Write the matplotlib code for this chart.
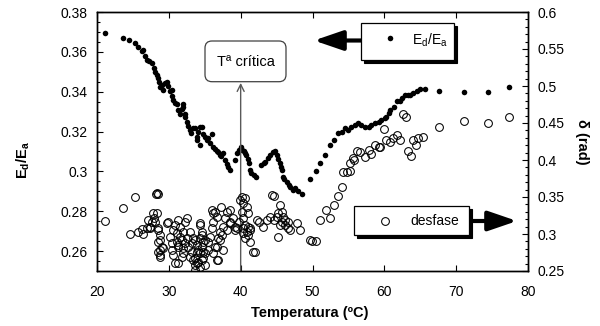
import matplotlib
matplotlib.use("Agg")
import matplotlib.pyplot as plt
from matplotlib.patches import Rectangle, FancyBboxPatch
from matplotlib.lines import Line2D
from matplotlib.ticker import MultipleLocator, FuncFormatter

plt.rcParams['font.family'] = ['Liberation Sans', 'DejaVu Sans']
plt.rcParams['mathtext.fontset'] = 'custom'
plt.rcParams['mathtext.rm'] = 'Liberation Sans'
plt.rcParams['mathtext.bf'] = 'Liberation Sans:bold'

# E_d/E_a vs temperature (left axis)
ed_ea_pts = [
    (21.1, 0.3696), (23.6, 0.3668), (24.5, 0.3658), (25.3, 0.3643), (25.75, 0.3623),
    (26.2, 0.3605), (26.4, 0.361), (26.7, 0.358), (26.9, 0.356), (27.2, 0.3555),
    (27.6, 0.3543), (27.9, 0.352), (28.1, 0.350), (28.3, 0.3485), (28.5, 0.347),
    (28.6, 0.345), (28.8, 0.3425), (29.0, 0.3435), (29.2, 0.341), (29.5, 0.3445),
    (29.7, 0.345), (29.9, 0.343), (30.1, 0.3405), (30.4, 0.341), (30.5, 0.338),
    (30.6, 0.336), (30.8, 0.3345), (31.1, 0.334), (31.3, 0.331), (31.6, 0.329),
    (31.8, 0.3315), (32.0, 0.3325), (32.0, 0.334), (32.2, 0.329), (32.3, 0.3275),
    (32.5, 0.325), (32.7, 0.323), (32.9, 0.321), (33.1, 0.3195), (33.3, 0.322),
    (33.6, 0.3216), (33.9, 0.3174), (33.9, 0.3158), (34.1, 0.320), (34.3, 0.3224),
    (34.3, 0.3133), (34.6, 0.3224), (34.8, 0.319), (35.0, 0.3175), (35.3, 0.3158),
    (35.5, 0.317), (35.7, 0.314), (36.0, 0.319), (36.2, 0.3124), (36.4, 0.311),
    (36.7, 0.310), (36.9, 0.3095), (37.1, 0.3082), (37.3, 0.3075), (37.6, 0.309),
    (37.8, 0.3057), (38.1, 0.3035), (38.3, 0.3024), (38.5, 0.3007), (39.2, 0.3057),
    (39.5, 0.309), (39.7, 0.3108), (40.1, 0.3124), (40.2, 0.3105), (40.4, 0.310),
    (40.6, 0.309), (40.8, 0.3082), (41.0, 0.306), (41.1, 0.304), (41.3, 0.3007),
    (41.5, 0.299), (41.8, 0.2982), (42.2, 0.2973), (42.9, 0.3032), (43.2, 0.304),
    (43.4, 0.3049), (43.8, 0.3065), (44.1, 0.3082), (44.5, 0.3095), (44.8, 0.310),
    (45.0, 0.3082), (45.2, 0.306), (45.5, 0.304), (45.6, 0.302), (45.7, 0.3007),
    (45.9, 0.2973), (46.1, 0.296), (46.4, 0.2948), (46.7, 0.293), (46.9, 0.2923),
    (47.3, 0.2907), (47.6, 0.2915), (48.0, 0.290), (48.5, 0.2887), (49.7, 0.296),
    (50.5, 0.3004), (51.1, 0.3044), (51.8, 0.3082), (52.4, 0.3133), (53.0, 0.3158),
    (53.6, 0.3191), (54.1, 0.320), (54.5, 0.3216), (55.0, 0.3208), (55.4, 0.3224),
    (55.9, 0.3233), (56.4, 0.3241), (56.8, 0.3233), (57.3, 0.3224), (57.8, 0.3224),
    (58.2, 0.3233), (58.7, 0.3241), (59.2, 0.325), (59.6, 0.3258), (60.1, 0.3266),
    (60.3, 0.3275), (60.6, 0.3291), (60.8, 0.3308), (61.3, 0.3325), (61.7, 0.3355),
    (62.2, 0.3355), (62.5, 0.337), (62.9, 0.3384), (63.3, 0.3385), (63.6, 0.3384),
    (64.0, 0.3392), (64.5, 0.3405), (64.9, 0.3412), (65.6, 0.3412), (67.6, 0.3405),
    (71.1, 0.3397), (74.5, 0.3397), (77.3, 0.3422),
]

# desfase (phase lag, rad) vs temperature (right axis)
desfase_pts = [
    # 20-30 C
    (21.1, 0.318), (23.6, 0.3355), (25.3, 0.3496), (24.6, 0.2996), (25.75, 0.3031),
    (26.45, 0.2996), (26.2, 0.3063), (26.9, 0.3077), (27.1, 0.3189), (27.6, 0.3166),
    (27.8, 0.328), (28.3, 0.328), (27.4, 0.3077), (28.5, 0.3054), (28.45, 0.354),
    (28.2, 0.354), (28.3, 0.355), (28.8, 0.2986), (28.5, 0.2896), (28.8, 0.2784),
    (28.8, 0.2685), (29.2, 0.2807), (28.1, 0.3166), (27.9, 0.3212), (27.4, 0.3099),
    (28.5, 0.3077), (28.8, 0.2919), (29.0, 0.2828), (28.5, 0.2761), (28.8, 0.2716),
    (29.8, 0.3153),
    # 30-33 C
    (29.9, 0.3166), (30.2, 0.2963), (30.4, 0.2784), (30.6, 0.2716), (30.9, 0.2604),
    (31.3, 0.2604), (30.6, 0.3054), (31.1, 0.3009), (31.6, 0.3099), (31.3, 0.3189),
    (32.0, 0.3031), (31.8, 0.2919), (32.25, 0.3166), (32.5, 0.3212), (31.1, 0.2896),
    (31.3, 0.2828), (32.0, 0.2807), (32.5, 0.2942), (32.95, 0.3031), (33.2, 0.2874),
    (32.7, 0.2828), (33.2, 0.2761), (32.95, 0.2693), (30.9, 0.3122), (31.3, 0.2851),
    (32.0, 0.2739), (31.8, 0.2693), (32.25, 0.2874), (30.4, 0.2874), (31.6, 0.2963),
    # 33-35.5 C
    (33.4, 0.2649), (33.6, 0.2581), (33.6, 0.2514), (34.1, 0.2626), (34.3, 0.2739),
    (34.6, 0.2828), (34.3, 0.2942), (34.6, 0.3031), (34.3, 0.3121), (34.6, 0.2986),
    (34.8, 0.2896), (34.8, 0.2761), (34.8, 0.2672), (35.0, 0.2581), (33.9, 0.2761),
    (33.9, 0.2851), (33.4, 0.2942), (34.3, 0.3144), (33.6, 0.2672), (34.1, 0.2784),
    (35.0, 0.2739), (34.3, 0.2558), (33.9, 0.2604), (34.6, 0.2649), (35.0, 0.2919),
    (33.6, 0.2919),
    # 35.5-40 C
    (35.5, 0.2784), (35.5, 0.2896), (35.7, 0.2963), (35.97, 0.3077), (36.2, 0.3166),
    (35.97, 0.3324), (36.4, 0.3301), (36.2, 0.328), (36.7, 0.3234), (36.9, 0.2942),
    (37.1, 0.3031), (37.4, 0.2986), (37.6, 0.3099), (36.7, 0.2828), (36.9, 0.2649),
    (36.2, 0.2739), (37.8, 0.3212), (38.06, 0.3301), (38.5, 0.3324), (38.5, 0.3166),
    (38.06, 0.3054), (38.98, 0.3212), (39.2, 0.3099), (39.7, 0.3166), (39.45, 0.3077),
    (37.1, 0.2919), (37.3, 0.3368), (36.4, 0.2828), (37.6, 0.2784), (36.7, 0.2649),
    (39.2, 0.3054), (38.5, 0.3144),
    # 40-42 C
    (39.9, 0.346), (40.14, 0.350), (40.6, 0.3482), (40.37, 0.3415), (40.84, 0.3369),
    (40.14, 0.3301), (41.06, 0.328), (40.37, 0.3212), (40.6, 0.3121), (40.84, 0.3031),
    (41.3, 0.3054), (40.37, 0.3009), (41.06, 0.2986), (41.3, 0.2896), (41.76, 0.2761),
    (42.0, 0.2761), (42.23, 0.3189), (40.37, 0.3077), (41.06, 0.3099), (40.6, 0.2942),
    (41.3, 0.3077),
    # 42-48 C
    (42.5, 0.3166), (43.15, 0.3099), (43.6, 0.3189), (44.1, 0.3234), (44.3, 0.3527),
    (44.6, 0.3513), (45.0, 0.3234), (45.5, 0.3392), (45.7, 0.3301), (45.2, 0.328),
    (45.9, 0.3234), (45.7, 0.3166), (46.2, 0.3121), (46.6, 0.3077), (46.9, 0.3054),
    (45.2, 0.2963), (47.8, 0.3144), (48.3, 0.3054), (46.2, 0.3189), (45.5, 0.3121),
    (46.6, 0.3166), (44.6, 0.3189),
    # 48-80 C
    (49.65, 0.2919), (49.9, 0.291), (50.5, 0.291), (51.1, 0.3189), (51.9, 0.3324),
    (52.4, 0.3212), (53.0, 0.3392), (53.6, 0.3513), (54.1, 0.363), (54.3, 0.3842),
    (54.8, 0.3842), (55.2, 0.3857), (55.2, 0.3956), (55.7, 0.4023), (55.8, 0.400),
    (56.2, 0.4126), (56.6, 0.4112), (57.3, 0.4045), (57.8, 0.4135), (58.2, 0.408),
    (58.7, 0.4203), (59.3, 0.418), (59.4, 0.4172), (59.96, 0.4415), (60.3, 0.427),
    (60.8, 0.4247), (61.25, 0.4293), (61.7, 0.4338), (62.2, 0.427), (62.56, 0.4622),
    (63.0, 0.4577), (63.34, 0.4126), (63.67, 0.4058), (63.95, 0.427), (64.4, 0.4203),
    (64.7, 0.4293), (65.4, 0.4315), (67.6, 0.4442), (71.1, 0.453), (74.5, 0.4496),
    (77.3, 0.4577),
]

x_ticks = [20, 30, 40, 50, 60, 70, 80]
left_ticks = [0.26, 0.28, 0.30, 0.32, 0.34, 0.36, 0.38]
right_ticks = [0.25, 0.30, 0.35, 0.40, 0.45, 0.50, 0.55, 0.60]
T_CRIT = 40
T_CRIT_TIP = 0.3444

temp_ed, ed_ea = zip(*ed_ea_pts)
temp_des, desfase = zip(*desfase_pts)

fig = plt.figure(figsize=(6, 3.26), dpi=100)
ax = fig.add_axes([97 / 600, 1 - 271 / 326, 431 / 600, 259 / 326])
ax2 = ax.twinx()

ax.plot(temp_ed, ed_ea, 'o', color='k', ms=4.0, mew=0, zorder=3)
ax2.plot(temp_des, desfase, 'o', mfc='none', mec='k', ms=5.6, mew=0.75)

fmt = FuncFormatter(lambda v, p: '{:g}'.format(round(v, 3)))

ax.set_xlim(20, 80)
ax.set_ylim(0.25, 0.38)
ax2.set_ylim(0.25, 0.6)
ax.set_xticks(x_ticks)
ax.set_yticks(left_ticks)
ax2.set_yticks(right_ticks)
ax.yaxis.set_major_formatter(fmt)
ax2.yaxis.set_major_formatter(fmt)
ax.yaxis.set_minor_locator(MultipleLocator(0.005))
ax2.yaxis.set_minor_locator(MultipleLocator(0.01))

ax.tick_params(which='both', direction='in', top=True, right=False, width=0.8,
               labelsize=10, colors='k')
ax.tick_params(which='major', length=4)
ax.tick_params(which='minor', length=2.2)
ax.tick_params(axis='x', pad=10)
ax.tick_params(axis='y', pad=7)
ax2.tick_params(which='both', direction='in', width=0.8, labelsize=10, pad=7)
ax2.tick_params(which='major', length=4)
ax2.tick_params(which='minor', length=2.2)

for a in (ax, ax2):
    for s in a.spines.values():
        s.set_linewidth(1.0)

ax.set_xlabel('Temperatura (ºC)', fontsize=10.5, fontweight='bold')
ax.xaxis.set_label_coords(0.494, -0.135)
ax.set_ylabel(r'E$_\mathbf{d}$/E$_\mathbf{a}$', fontsize=10.5, fontweight='bold')
ax.yaxis.set_label_coords(-0.151, 0.43)
ax2.set_ylabel('δ (rad)', fontsize=10.5, fontweight='bold', rotation=270)
ax2.yaxis.set_label_coords(1.142, 0.5)

# critical temperature arrow
ax.annotate('', xy=(T_CRIT, T_CRIT_TIP), xytext=(T_CRIT, 0.25),
            arrowprops=dict(arrowstyle='->,head_length=0.5,head_width=0.25',
                            color='0.35', lw=1.0, shrinkA=0, shrinkB=0))

inch = fig.dpi_scale_trans


def px(x, y):
    return (x / 100, (326 - y) / 100)


crit_box = FancyBboxPatch(px(205, 81.7), 0.81, 0.407,
                          boxstyle='round,pad=0,rounding_size=0.07',
                          transform=inch, fc='white', ec='0.25', lw=0.9)
fig.add_artist(crit_box)
fig.text(*px(245.5, 61.5), 'Tª crítica', transform=inch, ha='center',
         va='center', fontsize=10.5)


def legend_box(x0, y0, x1, y1):
    w = (x1 - x0) / 100
    h = (y1 - y0) / 100
    fig.add_artist(Rectangle(px(x0 + 3, y1 + 3), w, h, transform=inch,
                             fc='k', ec='k', lw=0.8))
    fig.add_artist(Rectangle(px(x0, y1), w, h, transform=inch,
                             fc='white', ec='k', lw=0.9))


def big_arrow(x0, x1, y):
    ax.annotate('', xy=px(x1, y), xytext=px(x0, y), xycoords=inch,
                textcoords=inch, annotation_clip=False,
                arrowprops=dict(arrowstyle='-|>,head_length=1.75,head_width=0.6',
                                color='k', lw=3, shrinkA=0, shrinkB=0,
                                mutation_scale=10))


# E_d/E_a legend
legend_box(361, 22.7, 454, 59.5)
fig.add_artist(Line2D([px(390, 38)[0]], [px(390, 38)[1]], transform=inch,
                      marker='o', ms=4.0, mew=0, color='k', ls='none'))
fig.text(*px(430, 40), r'E$_\mathregular{d}$/E$_\mathregular{a}$',
         transform=inch, ha='center', va='center', fontsize=10)
big_arrow(361, 314, 40.5)

# desfase legend
legend_box(354, 205.7, 469, 235)
fig.add_artist(Line2D([px(385, 220.5)[0]], [px(385, 220.5)[1]], transform=inch,
                      marker='o', ms=5.6, mew=0.75, mfc='none', mec='k',
                      ls='none'))
fig.text(*px(434.5, 221), 'desfase', transform=inch, ha='center',
         va='center', fontsize=10)
big_arrow(469, 517, 221)

fig.savefig('out.png', dpi=100)
